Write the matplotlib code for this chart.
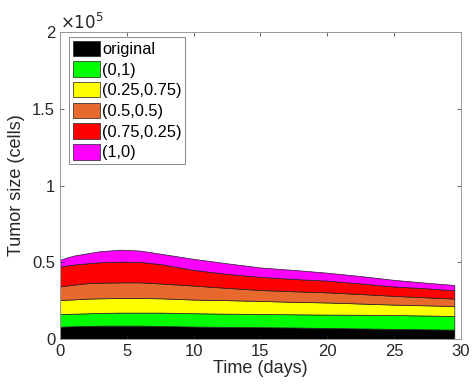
import matplotlib
matplotlib.use("Agg")
import matplotlib.pyplot as plt
import numpy as np

plt.rcParams['font.family'] = ['Liberation Sans', 'DejaVu Sans']

time_days = [0, 1, 2, 3, 4.5, 6, 7.5, 10, 12.5, 15, 17.5, 20, 22.5, 25, 27.5, 29.5]

original = [8000, 8300, 8500, 8700, 8700, 8700, 8500, 8100, 7900, 7700, 7500, 7200, 6900, 6600, 6300, 6100]
s_0_1 = [8300, 8200, 8200, 8300, 8500, 8500, 8700, 8700, 8600, 8600, 8600, 8700, 8900, 9000, 9000, 8900]
s_025_075 = [9100, 9300, 9600, 9500, 9500, 9500, 9300, 8900, 8800, 8500, 8100, 7900, 7300, 6800, 6600, 6500]
s_05_05 = [8900, 9600, 10000, 10200, 10200, 10200, 9700, 9100, 8000, 7100, 6900, 6600, 6200, 5700, 5200, 4800]
s_075_025 = [12900, 13100, 13000, 13300, 13500, 13300, 12600, 10200, 9100, 8600, 8000, 7600, 6900, 6100, 5900, 5400]
s_1_0 = [4500, 5800, 6500, 7200, 7800, 7400, 6800, 7200, 6900, 6100, 5900, 5200, 4800, 4300, 3600, 3500]

labels = ['original', '(0,1)', '(0.25,0.75)', '(0.5,0.5)', '(0.75,0.25)', '(1,0)']
colors = ['#000000', '#00FF00', '#FFFF00', '#E8692E', '#FF0000', '#FF00FF']

y_ticks = [0, 50000, 100000, 150000, 200000]
x_ticks = [0, 5, 10, 15, 20, 25, 30]

fig = plt.figure(figsize=(4.77, 3.91), dpi=100)
ax = fig.add_axes([60/477, 52/391, 401/477, 307/391])

series = [original, s_0_1, s_025_075, s_05_05, s_075_025, s_1_0]
polys = ax.stackplot(time_days, *series, colors=colors, labels=labels,
                     edgecolor='#202020', linewidth=0.5)

ax.set_xlim(0, 30)
ax.set_ylim(0, 200000)
ax.set_xticks(x_ticks)
ax.set_xticklabels([str(v) for v in x_ticks])
ax.set_yticks(y_ticks)
ax.set_yticklabels([f"{v/1e5:g}" for v in y_ticks])

ax.tick_params(direction='in', top=True, right=True, labelsize=12,
               colors='#262626', length=3, width=0.5)
for sp in ax.spines.values():
    sp.set_color('#999999')
    sp.set_linewidth(0.7)

ax.set_xlabel('Time (days)', fontsize=13, color='#262626', labelpad=1)
ax.set_ylabel('Tumor size (cells)', fontsize=13, color='#262626', labelpad=5)
ax.text(0.0, 1.0, r'$\times10^5$', transform=ax.transAxes, fontsize=12,
        color='#262626', ha='left', va='bottom')

leg = ax.legend(loc='upper left', bbox_to_anchor=(9/401, 1 - 5/307),
                borderaxespad=0, fontsize=11.8, handlelength=1.65,
                handleheight=1.07, labelspacing=0.27, handletextpad=0.15,
                borderpad=0.22, fancybox=False, framealpha=1)
leg.get_frame().set_edgecolor('#888888')
leg.get_frame().set_linewidth(0.7)

fig.savefig('out.png', dpi=100)
